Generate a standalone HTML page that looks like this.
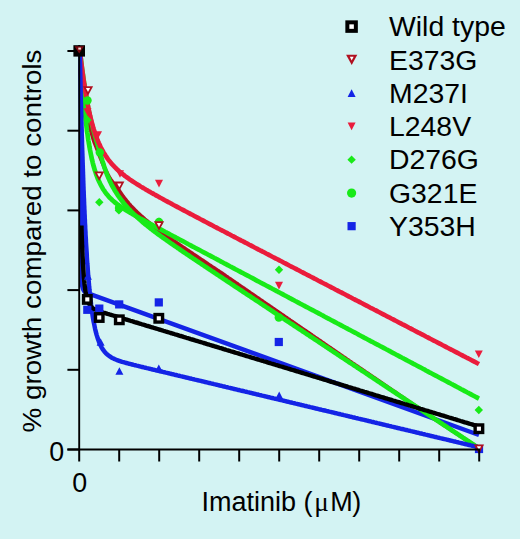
<!DOCTYPE html>
<html><head><meta charset="utf-8"><style>
html,body{margin:0;padding:0;background:#d3f3f3;}
body{width:520px;height:539px;overflow:hidden;}
svg{display:block;font-family:"Liberation Sans",sans-serif;}
</style></head><body>
<svg width="520" height="539" viewBox="0 0 520 539">
<rect width="520" height="539" fill="#d3f3f3"/>
<defs><clipPath id="cp"><rect x="78.4" y="0" width="442" height="539"/></clipPath></defs><g clip-path="url(#cp)">
<path d="M80.2,53 C81.0,110 81.5,200 81.6,278 Q81.7,291.3 86,292.6 L479,435" fill="none" stroke="#1424e6" stroke-width="4.5" stroke-linejoin="round"/>
<path d="M77.3,51.3 L77.5,52.8 L77.7,54.3 L77.9,55.8 L78.0,57.3 L78.2,58.8 L78.4,60.2 L78.6,61.7 L78.8,63.2 L79.0,64.7 L79.2,66.2 L79.4,67.7 L79.6,69.2 L79.8,70.7 L80.0,72.1 L80.2,73.6 L80.4,75.1 L80.6,76.6 L80.8,78.1 L81.0,79.6 L81.2,81.0 L81.4,82.5 L81.7,84.0 L81.9,85.5 L82.1,87.0 L82.3,88.5 L82.6,89.9 L82.8,91.4 L83.0,92.9 L83.3,94.4 L83.5,95.9 L83.7,97.4 L84.0,98.8 L84.2,100.3 L84.5,101.8 L84.7,103.3 L85.0,104.7 L85.3,106.2 L85.5,107.7 L85.8,109.2 L86.1,110.6 L86.4,112.1 L86.7,113.6 L87.0,115.0 L87.4,116.5 L87.7,118.0 L88.0,119.4 L88.4,120.9 L88.7,122.3 L89.1,123.8 L89.5,125.3 L89.9,126.7 L90.2,128.2 L90.6,129.6 L91.0,131.1 L91.4,132.5 L91.8,133.9 L92.3,135.4 L92.7,136.8 L93.1,138.3 L93.5,139.7 L94.0,141.1 L94.5,142.5 L95.1,143.9 L95.6,145.3 L96.2,146.7 L96.7,148.1 L97.3,149.5 L97.8,150.9 L98.4,152.3 L98.9,153.7 L99.4,155.1 L100.0,156.5 L100.5,157.9 L101.1,159.3 L101.7,160.7 L102.2,162.1 L102.8,163.5 L103.4,164.8 L103.9,166.2 L104.5,167.6 L105.1,169.0 L105.7,170.3 L106.4,171.7 L107.0,173.0 L107.7,174.4 L108.4,175.7 L109.1,177.1 L109.9,178.3 L110.7,179.6 L111.6,180.8 L112.4,182.0 L113.3,183.2 L114.2,184.4 L115.1,185.6 L116.1,186.8 L117.0,188.0 L118.0,189.1 L118.9,190.3 L119.7,191.5 L120.6,192.8 L121.4,194.0 L122.3,195.3 L123.1,196.5 L124.0,197.7 L124.9,198.9 L125.9,200.1 L126.8,201.2 L127.8,202.4 L128.7,203.5 L129.7,204.6 L130.7,205.8 L131.8,206.9 L132.8,208.0 L133.8,209.0 L134.9,210.1 L136.0,211.2 L137.0,212.2 L138.1,213.2 L139.2,214.2 L140.3,215.3 L141.4,216.3 L142.6,217.2 L143.7,218.2 L144.8,219.2 L146.0,220.2 L147.1,221.1 L148.3,222.1 L149.5,223.0 L150.7,224.0 L151.8,224.9 L153.0,225.8 L154.2,226.7 L155.4,227.6 L156.6,228.5 L157.8,229.4 L159.0,230.3 L160.2,231.2 L161.4,232.1 L162.6,233.0 L163.8,233.9 L165.1,234.7 L166.3,235.6 L167.5,236.5 L168.7,237.4 L169.9,238.2 L171.2,239.1 L172.4,239.9 L173.6,240.8 L174.9,241.7 L176.1,242.5 L177.3,243.4 L178.6,244.2 L179.8,245.1 L181.0,245.9 L182.3,246.8 L183.5,247.6 L184.8,248.5 L186.0,249.3 L187.2,250.1 L188.5,251.0 L189.7,251.8 L191.0,252.7 L192.2,253.5 L193.4,254.3 L194.7,255.2 L195.9,256.0 L197.2,256.8 L198.4,257.7 L199.7,258.5 L200.9,259.4 L202.2,260.2 L203.4,261.0 L204.7,261.9 L205.9,262.7 L207.2,263.5 L208.4,264.4 L209.6,265.2 L210.9,266.0 L212.1,266.9 L213.4,267.7 L214.6,268.5 L215.9,269.4 L217.1,270.2 L218.4,271.0 L219.6,271.8 L220.9,272.7 L222.1,273.5 L223.4,274.4 L224.6,275.2 L225.8,276.1 L227.1,276.9 L228.3,277.8 L229.5,278.6 L230.8,279.5 L232.0,280.3 L233.2,281.2 L234.5,282.0 L235.7,282.9 L237.0,283.7 L238.2,284.6 L239.4,285.4 L240.7,286.3 L241.9,287.1 L243.1,288.0 L244.4,288.8 L245.6,289.7 L246.8,290.5 L248.1,291.4 L249.3,292.2 L250.5,293.1 L251.8,293.9 L253.0,294.8 L254.3,295.6 L255.5,296.5 L256.7,297.3 L258.0,298.2 L259.2,299.0 L260.4,299.9 L261.7,300.7 L262.9,301.6 L264.1,302.4 L265.4,303.3 L266.6,304.1 L267.8,305.0 L269.1,305.8 L270.3,306.7 L271.6,307.5 L272.8,308.4 L274.0,309.2 L275.3,310.1 L276.5,310.9 L277.7,311.8 L279.0,312.6 L280.2,313.5 L281.4,314.3 L282.7,315.2 L283.9,316.0 L285.1,316.9 L286.4,317.7 L287.6,318.6 L288.9,319.4 L290.1,320.3 L291.3,321.1 L292.6,322.0 L293.8,322.8 L295.0,323.7 L296.3,324.5 L297.5,325.4 L298.7,326.2 L300.0,327.1 L301.2,327.9 L302.5,328.8 L303.7,329.6 L304.9,330.5 L306.2,331.3 L307.4,332.2 L308.6,333.0 L309.9,333.9 L311.1,334.7 L312.3,335.6 L313.6,336.4 L314.8,337.3 L316.0,338.1 L317.3,339.0 L318.5,339.8 L319.8,340.7 L321.0,341.5 L322.2,342.4 L323.5,343.2 L324.7,344.1 L325.9,344.9 L327.2,345.8 L328.4,346.6 L329.6,347.5 L330.9,348.3 L332.1,349.2 L333.3,350.0 L334.6,350.9 L335.8,351.7 L337.1,352.6 L338.3,353.4 L339.5,354.3 L340.8,355.1 L342.0,356.0 L343.2,356.8 L344.5,357.7 L345.7,358.5 L346.9,359.4 L348.2,360.2 L349.4,361.1 L350.7,361.9 L351.9,362.8 L353.1,363.6 L354.4,364.5 L355.6,365.3 L356.9,366.2 L358.1,367.0 L359.3,367.8 L360.6,368.7 L361.8,369.5 L363.1,370.4 L364.3,371.2 L365.5,372.1 L366.8,372.9 L368.0,373.7 L369.3,374.6 L370.5,375.4 L371.7,376.3 L373.0,377.1 L374.2,378.0 L375.5,378.8 L376.7,379.7 L377.9,380.5 L379.2,381.3 L380.4,382.2 L381.7,383.0 L382.9,383.9 L384.1,384.7 L385.4,385.6 L386.6,386.4 L387.9,387.3 L389.1,388.1 L390.3,388.9 L391.6,389.8 L392.8,390.6 L394.0,391.5 L395.3,392.3 L396.5,393.2 L397.8,394.0 L399.0,394.9 L400.2,395.7 L401.5,396.5 L402.7,397.4 L404.0,398.2 L405.2,399.1 L406.4,399.9 L407.7,400.8 L408.9,401.6 L410.2,402.4 L411.4,403.3 L412.6,404.1 L413.9,405.0 L415.1,405.8 L416.4,406.7 L417.6,407.5 L418.8,408.4 L420.1,409.2 L421.3,410.0 L422.6,410.9 L423.8,411.7 L425.1,412.5 L426.3,413.3 L427.6,414.2 L428.8,415.0 L430.1,415.8 L431.3,416.7 L432.6,417.5 L433.8,418.3 L435.1,419.2 L436.3,420.0 L437.6,420.8 L438.8,421.6 L440.1,422.5 L441.3,423.3 L442.6,424.1 L443.8,425.0 L445.1,425.8 L446.3,426.6 L447.6,427.4 L448.8,428.3 L450.1,429.1 L451.3,429.9 L452.6,430.8 L453.8,431.6 L455.1,432.4 L456.3,433.2 L457.6,434.1 L458.8,434.9 L460.1,435.7 L461.3,436.6 L462.6,437.4 L463.8,438.2 L465.1,439.1 L466.3,439.9 L467.6,440.7 L468.8,441.5 L470.1,442.4 L471.3,443.2 L472.6,444.0 L473.8,444.9 L475.1,445.7 L476.3,446.5 L477.6,447.3 L478.8,448.2 L479.0,448.3" fill="none" stroke="#b01020" stroke-width="4.0" stroke-linejoin="round"/>
<path d="M79.9,51.0 L80.0,52.5 L80.1,54.0 L80.2,55.5 L80.3,57.0 L80.4,58.5 L80.5,60.0 L80.6,61.5 L80.7,63.0 L80.8,64.5 L80.9,66.0 L81.1,67.5 L81.2,69.0 L81.3,70.5 L81.4,71.9 L81.5,73.4 L81.6,74.9 L81.7,76.4 L81.9,77.9 L82.0,79.4 L82.1,80.9 L82.2,82.4 L82.4,83.9 L82.5,85.4 L82.6,86.9 L82.7,88.4 L82.9,89.9 L83.0,91.4 L83.1,92.9 L83.2,94.4 L83.4,95.9 L83.5,97.4 L83.6,98.9 L83.8,100.3 L83.9,101.8 L84.0,103.3 L84.2,104.8 L84.3,106.3 L84.4,107.8 L84.6,109.3 L84.7,110.8 L84.9,112.3 L85.0,113.8 L85.2,115.3 L85.4,116.8 L85.5,118.3 L85.7,119.8 L85.9,121.2 L86.0,122.7 L86.2,124.2 L86.4,125.7 L86.6,127.2 L86.8,128.7 L86.9,130.2 L87.1,131.7 L87.3,133.1 L87.6,134.6 L87.8,136.1 L88.0,137.6 L88.2,139.1 L88.4,140.6 L88.7,142.1 L88.9,143.5 L89.2,145.0 L89.4,146.5 L89.7,148.0 L89.9,149.4 L90.2,150.9 L90.5,152.4 L90.8,153.9 L91.1,155.3 L91.4,156.8 L91.7,158.3 L92.0,159.7 L92.4,161.2 L92.7,162.6 L93.1,164.1 L93.5,165.6 L93.9,167.0 L94.3,168.4 L94.7,169.9 L95.2,171.3 L95.7,172.7 L96.1,174.1 L96.7,175.6 L97.2,177.0 L97.7,178.4 L98.3,179.7 L98.9,181.1 L99.6,182.5 L100.2,183.8 L100.9,185.2 L101.6,186.5 L102.4,187.8 L103.1,189.1 L104.0,190.3 L104.8,191.6 L105.7,192.8 L106.6,194.0 L107.5,195.1 L108.5,196.3 L109.5,197.4 L110.6,198.4 L111.6,199.5 L112.7,200.5 L113.9,201.5 L115.0,202.5 L116.2,203.4 L117.4,204.3 L118.6,205.2 L119.8,206.1 L121.0,207.0 L122.3,207.8 L123.5,208.6 L124.8,209.4 L126.0,210.2 L127.3,211.0 L128.6,211.8 L129.9,212.6 L131.2,213.3 L132.5,214.1 L133.8,214.8 L135.1,215.6 L136.4,216.3 L137.7,217.0 L139.0,217.8 L140.3,218.5 L141.7,219.2 L143.0,219.9 L144.3,220.6 L145.6,221.4 L146.9,222.1 L148.2,222.8 L149.6,223.5 L150.9,224.2 L152.2,224.9 L153.5,225.6 L154.9,226.3 L156.2,227.0 L157.5,227.7 L158.8,228.5 L160.1,229.2 L161.5,229.9 L162.8,230.6 L164.1,231.3 L165.4,232.0 L166.8,232.7 L168.1,233.4 L169.4,234.1 L170.7,234.8 L172.1,235.5 L173.4,236.2 L174.7,236.9 L176.0,237.6 L177.4,238.3 L178.7,239.0 L180.0,239.7 L181.3,240.4 L182.7,241.1 L184.0,241.8 L185.3,242.5 L186.6,243.2 L188.0,244.0 L189.3,244.7 L190.6,245.4 L191.9,246.1 L193.3,246.8 L194.6,247.5 L195.9,248.2 L197.2,248.9 L198.6,249.6 L199.9,250.3 L201.2,251.0 L202.5,251.7 L203.8,252.4 L205.2,253.1 L206.5,253.8 L207.8,254.5 L209.1,255.2 L210.5,255.9 L211.8,256.6 L213.1,257.3 L214.4,258.0 L215.8,258.7 L217.1,259.4 L218.4,260.1 L219.7,260.8 L221.1,261.6 L222.4,262.3 L223.7,263.0 L225.0,263.7 L226.4,264.4 L227.7,265.1 L229.0,265.8 L230.3,266.5 L231.7,267.2 L233.0,267.9 L234.3,268.6 L235.6,269.3 L237.0,270.0 L238.3,270.7 L239.6,271.4 L240.9,272.1 L242.3,272.8 L243.6,273.5 L244.9,274.2 L246.2,274.9 L247.6,275.6 L248.9,276.3 L250.2,277.0 L251.5,277.7 L252.9,278.4 L254.2,279.1 L255.5,279.9 L256.8,280.6 L258.2,281.3 L259.5,282.0 L260.8,282.7 L262.1,283.4 L263.5,284.1 L264.8,284.8 L266.1,285.5 L267.4,286.2 L268.8,286.9 L270.1,287.6 L271.4,288.3 L272.7,289.0 L274.1,289.7 L275.4,290.4 L276.7,291.1 L278.0,291.8 L279.4,292.5 L280.7,293.2 L282.0,293.9 L283.3,294.6 L284.6,295.3 L286.0,296.0 L287.3,296.7 L288.6,297.4 L289.9,298.2 L291.3,298.9 L292.6,299.6 L293.9,300.3 L295.2,301.0 L296.6,301.7 L297.9,302.4 L299.2,303.1 L300.5,303.8 L301.9,304.5 L303.2,305.2 L304.5,305.9 L305.8,306.6 L307.2,307.3 L308.5,308.0 L309.8,308.7 L311.1,309.4 L312.5,310.1 L313.8,310.8 L315.1,311.5 L316.4,312.2 L317.8,312.9 L319.1,313.6 L320.4,314.3 L321.7,315.0 L323.1,315.7 L324.4,316.5 L325.7,317.2 L327.0,317.9 L328.4,318.6 L329.7,319.3 L331.0,320.0 L332.3,320.7 L333.7,321.4 L335.0,322.1 L336.3,322.8 L337.6,323.5 L339.0,324.2 L340.3,324.9 L341.6,325.6 L342.9,326.3 L344.3,327.0 L345.6,327.7 L346.9,328.4 L348.2,329.1 L349.6,329.8 L350.9,330.5 L352.2,331.2 L353.5,331.9 L354.9,332.6 L356.2,333.3 L357.5,334.0 L358.8,334.8 L360.2,335.5 L361.5,336.2 L362.8,336.9 L364.1,337.6 L365.5,338.3 L366.8,339.0 L368.1,339.7 L369.4,340.4 L370.7,341.1 L372.1,341.8 L373.4,342.5 L374.7,343.2 L376.0,343.9 L377.4,344.6 L378.7,345.3 L380.0,346.0 L381.3,346.7 L382.7,347.4 L384.0,348.1 L385.3,348.8 L386.6,349.5 L388.0,350.2 L389.3,350.9 L390.6,351.6 L391.9,352.4 L393.3,353.1 L394.6,353.8 L395.9,354.5 L397.2,355.2 L398.6,355.9 L399.9,356.6 L401.2,357.3 L402.5,358.0 L403.9,358.7 L405.2,359.4 L406.5,360.1 L407.8,360.8 L409.2,361.5 L410.5,362.2 L411.8,362.9 L413.1,363.6 L414.5,364.3 L415.8,365.0 L417.1,365.7 L418.4,366.4 L419.8,367.1 L421.1,367.8 L422.4,368.5 L423.7,369.2 L425.1,369.9 L426.4,370.7 L427.7,371.4 L429.0,372.1 L430.4,372.8 L431.7,373.5 L433.0,374.2 L434.3,374.9 L435.7,375.6 L437.0,376.3 L438.3,377.0 L439.6,377.7 L441.0,378.4 L442.3,379.1 L443.6,379.8 L444.9,380.5 L446.3,381.2 L447.6,381.9 L448.9,382.6 L450.2,383.3 L451.5,384.0 L452.9,384.7 L454.2,385.4 L455.5,386.1 L456.8,386.8 L458.2,387.5 L459.5,388.2 L460.8,389.0 L462.1,389.7 L463.5,390.4 L464.8,391.1 L466.1,391.8 L467.4,392.5 L468.8,393.2 L470.1,393.9 L471.4,394.6 L472.7,395.3 L474.1,396.0 L475.4,396.7 L476.7,397.4 L478.0,398.1 L479.0,398.6" fill="none" stroke="#18ea18" stroke-width="4.7" stroke-linejoin="round"/>
<path d="M79.9,51.0 L80.1,52.5 L80.3,54.0 L80.4,55.5 L80.6,57.0 L80.8,58.4 L81.0,59.9 L81.2,61.4 L81.4,62.9 L81.6,64.4 L81.7,65.9 L81.9,67.4 L82.1,68.9 L82.3,70.3 L82.5,71.8 L82.7,73.3 L83.0,74.8 L83.2,76.3 L83.4,77.8 L83.6,79.3 L83.8,80.7 L84.0,82.2 L84.2,83.7 L84.5,85.2 L84.7,86.7 L84.9,88.2 L85.2,89.6 L85.4,91.1 L85.6,92.6 L85.8,94.1 L86.1,95.6 L86.3,97.1 L86.6,98.5 L86.8,100.0 L87.1,101.5 L87.3,103.0 L87.6,104.4 L87.9,105.9 L88.1,107.4 L88.4,108.9 L88.7,110.3 L89.0,111.8 L89.3,113.3 L89.6,114.7 L90.0,116.2 L90.3,117.7 L90.6,119.1 L91.0,120.6 L91.3,122.0 L91.7,123.5 L92.1,124.9 L92.5,126.4 L92.9,127.8 L93.2,129.3 L93.6,130.7 L94.1,132.2 L94.5,133.6 L94.9,135.1 L95.3,136.5 L95.7,138.0 L96.1,139.4 L96.5,140.8 L97.0,142.3 L97.4,143.7 L97.8,145.2 L98.2,146.6 L98.7,148.0 L99.1,149.5 L99.5,150.9 L99.9,152.4 L100.3,153.8 L100.7,155.2 L101.2,156.7 L101.6,158.1 L102.0,159.6 L102.4,161.0 L102.9,162.4 L103.3,163.9 L103.8,165.3 L104.2,166.7 L104.7,168.1 L105.2,169.6 L105.7,171.0 L106.2,172.4 L106.7,173.8 L107.3,175.2 L107.9,176.6 L108.4,177.9 L109.1,179.3 L109.7,180.7 L110.3,182.0 L111.0,183.4 L111.6,184.7 L112.3,186.1 L113.1,187.4 L113.8,188.7 L114.5,190.0 L115.3,191.3 L116.1,192.5 L116.9,193.8 L117.7,195.1 L118.6,196.3 L119.4,197.5 L120.3,198.7 L121.2,199.9 L122.1,201.1 L123.1,202.3 L124.0,203.5 L125.0,204.6 L125.9,205.8 L126.9,206.9 L127.9,208.0 L128.9,209.1 L130.0,210.2 L131.0,211.3 L132.1,212.4 L133.1,213.4 L134.2,214.5 L135.3,215.5 L136.4,216.5 L137.5,217.5 L138.6,218.5 L139.7,219.5 L140.9,220.5 L142.0,221.5 L143.1,222.5 L144.3,223.4 L145.4,224.4 L146.6,225.3 L147.8,226.3 L149.0,227.2 L150.1,228.1 L151.3,229.0 L152.5,230.0 L153.7,230.9 L154.9,231.8 L156.1,232.7 L157.3,233.6 L158.5,234.5 L159.7,235.3 L160.9,236.2 L162.2,237.1 L163.4,238.0 L164.6,238.8 L165.8,239.7 L167.0,240.6 L168.3,241.4 L169.5,242.3 L170.7,243.2 L172.0,244.0 L173.2,244.9 L174.4,245.7 L175.7,246.6 L176.9,247.4 L178.1,248.3 L179.4,249.1 L180.6,250.0 L181.8,250.8 L183.1,251.7 L184.3,252.5 L185.6,253.4 L186.8,254.2 L188.1,255.0 L189.3,255.9 L190.5,256.7 L191.8,257.6 L193.0,258.4 L194.3,259.2 L195.5,260.1 L196.8,260.9 L198.0,261.7 L199.3,262.6 L200.5,263.4 L201.7,264.2 L203.0,265.1 L204.2,265.9 L205.5,266.7 L206.7,267.6 L208.0,268.4 L209.2,269.2 L210.5,270.1 L211.7,270.9 L213.0,271.7 L214.2,272.6 L215.5,273.4 L216.7,274.2 L218.0,275.1 L219.2,275.9 L220.5,276.7 L221.7,277.6 L223.0,278.4 L224.2,279.2 L225.5,280.0 L226.7,280.9 L228.0,281.7 L229.2,282.5 L230.5,283.4 L231.7,284.2 L233.0,285.0 L234.2,285.9 L235.5,286.7 L236.7,287.5 L238.0,288.3 L239.2,289.2 L240.5,290.0 L241.7,290.8 L243.0,291.7 L244.2,292.5 L245.5,293.3 L246.7,294.2 L248.0,295.0 L249.2,295.8 L250.5,296.6 L251.7,297.5 L253.0,298.3 L254.2,299.1 L255.5,300.0 L256.7,300.8 L258.0,301.6 L259.2,302.4 L260.5,303.3 L261.7,304.1 L263.0,304.9 L264.2,305.8 L265.5,306.6 L266.7,307.4 L268.0,308.3 L269.2,309.1 L270.5,309.9 L271.7,310.7 L272.9,311.6 L274.2,312.4 L275.4,313.2 L276.7,314.1 L277.9,314.9 L279.2,315.7 L280.4,316.5 L281.7,317.4 L282.9,318.2 L284.2,319.0 L285.4,319.9 L286.7,320.7 L287.9,321.5 L289.2,322.4 L290.4,323.2 L291.7,324.0 L292.9,324.8 L294.2,325.7 L295.4,326.5 L296.7,327.3 L297.9,328.2 L299.2,329.0 L300.4,329.8 L301.7,330.6 L302.9,331.5 L304.2,332.3 L305.4,333.1 L306.7,334.0 L307.9,334.8 L309.2,335.6 L310.4,336.5 L311.7,337.3 L312.9,338.1 L314.2,338.9 L315.4,339.8 L316.7,340.6 L317.9,341.4 L319.2,342.3 L320.4,343.1 L321.7,343.9 L322.9,344.7 L324.2,345.6 L325.4,346.4 L326.7,347.2 L327.9,348.1 L329.2,348.9 L330.4,349.7 L331.7,350.6 L332.9,351.4 L334.2,352.2 L335.4,353.0 L336.7,353.9 L337.9,354.7 L339.2,355.5 L340.4,356.4 L341.7,357.2 L342.9,358.0 L344.2,358.8 L345.4,359.7 L346.7,360.5 L347.9,361.3 L349.2,362.2 L350.4,363.0 L351.7,363.8 L352.9,364.6 L354.2,365.5 L355.4,366.3 L356.7,367.1 L357.9,368.0 L359.2,368.8 L360.4,369.6 L361.7,370.5 L362.9,371.3 L364.2,372.1 L365.4,372.9 L366.7,373.8 L367.9,374.6 L369.2,375.4 L370.4,376.3 L371.7,377.1 L372.9,377.9 L374.2,378.7 L375.4,379.6 L376.7,380.4 L377.9,381.2 L379.2,382.1 L380.4,382.9 L381.7,383.7 L382.9,384.6 L384.2,385.4 L385.4,386.2 L386.7,387.0 L387.9,387.9 L389.2,388.7 L390.4,389.5 L391.7,390.4 L392.9,391.2 L394.2,392.0 L395.4,392.8 L396.7,393.7 L397.9,394.5 L399.2,395.3 L400.4,396.2 L401.7,397.0 L402.9,397.8 L404.2,398.7 L405.4,399.5 L406.7,400.3 L407.9,401.1 L409.2,402.0 L410.4,402.8 L411.7,403.6 L412.9,404.5 L414.2,405.3 L415.4,406.1 L416.7,406.9 L417.9,407.8 L419.2,408.6 L420.4,409.4 L421.7,410.3 L422.9,411.1 L424.2,411.9 L425.4,412.7 L426.7,413.6 L427.9,414.4 L429.2,415.2 L430.4,416.1 L431.7,416.9 L432.9,417.7 L434.2,418.6 L435.4,419.4 L436.7,420.2 L437.9,421.0 L439.2,421.9 L440.4,422.7 L441.7,423.5 L442.9,424.4 L444.2,425.2 L445.4,426.0 L446.7,426.8 L447.9,427.7 L449.2,428.5 L450.4,429.3 L451.7,430.2 L452.9,431.0 L454.2,431.8 L455.4,432.7 L456.7,433.5 L457.9,434.3 L459.2,435.1 L460.4,436.0 L461.7,436.8 L462.9,437.6 L464.2,438.5 L465.4,439.3 L466.7,440.1 L467.9,440.9 L469.2,441.8 L470.4,442.6 L471.7,443.4 L472.9,444.3 L474.2,445.1 L475.4,445.9 L476.7,446.8 L477.9,447.6 L479.0,448.3" fill="none" stroke="#18ea18" stroke-width="4.7" stroke-linejoin="round"/>
<path d="M79.9,51.0 L80.1,52.5 L80.2,54.0 L80.4,55.5 L80.6,57.0 L80.8,58.5 L80.9,59.9 L81.1,61.4 L81.3,62.9 L81.5,64.4 L81.7,65.9 L81.9,67.4 L82.1,68.9 L82.3,70.4 L82.5,71.8 L82.7,73.3 L82.9,74.8 L83.1,76.3 L83.3,77.8 L83.5,79.3 L83.7,80.8 L84.0,82.2 L84.2,83.7 L84.4,85.2 L84.7,86.7 L84.9,88.2 L85.1,89.6 L85.4,91.1 L85.6,92.6 L85.9,94.1 L86.1,95.6 L86.4,97.0 L86.6,98.5 L86.9,100.0 L87.1,101.5 L87.4,102.9 L87.7,104.4 L88.0,105.9 L88.3,107.4 L88.6,108.8 L88.9,110.3 L89.2,111.8 L89.5,113.2 L89.9,114.7 L90.2,116.2 L90.6,117.6 L90.9,119.1 L91.3,120.5 L91.7,122.0 L92.1,123.4 L92.5,124.9 L92.9,126.3 L93.3,127.7 L93.7,129.2 L94.2,130.6 L94.7,132.0 L95.1,133.5 L95.6,134.9 L96.1,136.3 L96.7,137.7 L97.2,139.1 L97.8,140.5 L98.3,141.9 L98.9,143.2 L99.6,144.6 L100.2,146.0 L100.8,147.3 L101.5,148.7 L102.2,150.0 L103.0,151.3 L103.7,152.6 L104.5,153.9 L105.3,155.1 L106.1,156.4 L106.9,157.6 L107.8,158.9 L108.7,160.1 L109.6,161.2 L110.6,162.4 L111.5,163.6 L112.5,164.7 L113.6,165.8 L114.6,166.9 L115.6,167.9 L116.7,169.0 L117.8,170.0 L118.9,171.0 L120.1,172.0 L121.2,173.0 L122.4,173.9 L123.6,174.8 L124.7,175.8 L125.9,176.7 L127.1,177.5 L128.4,178.4 L129.6,179.3 L130.8,180.1 L132.1,181.0 L133.3,181.8 L134.6,182.6 L135.8,183.4 L137.1,184.2 L138.4,185.0 L139.7,185.8 L140.9,186.6 L142.2,187.4 L143.5,188.1 L144.8,188.9 L146.1,189.7 L147.4,190.4 L148.7,191.2 L150.0,191.9 L151.3,192.7 L152.6,193.4 L153.9,194.1 L155.2,194.9 L156.5,195.6 L157.8,196.3 L159.1,197.1 L160.4,197.8 L161.8,198.5 L163.1,199.2 L164.4,200.0 L165.7,200.7 L167.0,201.4 L168.3,202.1 L169.7,202.8 L171.0,203.5 L172.3,204.3 L173.6,205.0 L175.0,205.7 L176.3,206.4 L177.6,207.1 L178.9,207.8 L180.2,208.5 L181.6,209.2 L182.9,209.9 L184.2,210.6 L185.5,211.3 L186.9,212.0 L188.2,212.7 L189.5,213.4 L190.8,214.1 L192.2,214.8 L193.5,215.5 L194.8,216.2 L196.1,216.9 L197.5,217.6 L198.8,218.3 L200.1,219.0 L201.5,219.7 L202.8,220.4 L204.1,221.1 L205.4,221.8 L206.8,222.5 L208.1,223.2 L209.4,223.9 L210.8,224.6 L212.1,225.3 L213.4,226.0 L214.7,226.7 L216.1,227.4 L217.4,228.1 L218.7,228.8 L220.1,229.5 L221.4,230.2 L222.7,230.8 L224.1,231.5 L225.4,232.2 L226.7,232.9 L228.0,233.6 L229.4,234.3 L230.7,235.0 L232.0,235.7 L233.4,236.4 L234.7,237.1 L236.0,237.8 L237.4,238.5 L238.7,239.2 L240.0,239.9 L241.3,240.6 L242.7,241.2 L244.0,241.9 L245.3,242.6 L246.7,243.3 L248.0,244.0 L249.3,244.7 L250.7,245.4 L252.0,246.1 L253.3,246.8 L254.6,247.5 L256.0,248.2 L257.3,248.9 L258.6,249.6 L260.0,250.3 L261.3,250.9 L262.6,251.6 L264.0,252.3 L265.3,253.0 L266.6,253.7 L268.0,254.4 L269.3,255.1 L270.6,255.8 L271.9,256.5 L273.3,257.2 L274.6,257.9 L275.9,258.6 L277.3,259.2 L278.6,259.9 L279.9,260.6 L281.3,261.3 L282.6,262.0 L283.9,262.7 L285.3,263.4 L286.6,264.1 L287.9,264.8 L289.2,265.5 L290.6,266.2 L291.9,266.9 L293.2,267.5 L294.6,268.2 L295.9,268.9 L297.2,269.6 L298.6,270.3 L299.9,271.0 L301.2,271.7 L302.6,272.4 L303.9,273.1 L305.2,273.8 L306.6,274.5 L307.9,275.2 L309.2,275.8 L310.5,276.5 L311.9,277.2 L313.2,277.9 L314.5,278.6 L315.9,279.3 L317.2,280.0 L318.5,280.7 L319.9,281.4 L321.2,282.1 L322.5,282.8 L323.9,283.5 L325.2,284.1 L326.5,284.8 L327.8,285.5 L329.2,286.2 L330.5,286.9 L331.8,287.6 L333.2,288.3 L334.5,289.0 L335.8,289.7 L337.2,290.4 L338.5,291.1 L339.8,291.8 L341.2,292.4 L342.5,293.1 L343.8,293.8 L345.2,294.5 L346.5,295.2 L347.8,295.9 L349.1,296.6 L350.5,297.3 L351.8,298.0 L353.1,298.7 L354.5,299.4 L355.8,300.1 L357.1,300.7 L358.5,301.4 L359.8,302.1 L361.1,302.8 L362.5,303.5 L363.8,304.2 L365.1,304.9 L366.5,305.6 L367.8,306.3 L369.1,307.0 L370.4,307.7 L371.8,308.4 L373.1,309.0 L374.4,309.7 L375.8,310.4 L377.1,311.1 L378.4,311.8 L379.8,312.5 L381.1,313.2 L382.4,313.9 L383.8,314.6 L385.1,315.3 L386.4,316.0 L387.7,316.7 L389.1,317.3 L390.4,318.0 L391.7,318.7 L393.1,319.4 L394.4,320.1 L395.7,320.8 L397.1,321.5 L398.4,322.2 L399.7,322.9 L401.1,323.6 L402.4,324.3 L403.7,324.9 L405.1,325.6 L406.4,326.3 L407.7,327.0 L409.0,327.7 L410.4,328.4 L411.7,329.1 L413.0,329.8 L414.4,330.5 L415.7,331.2 L417.0,331.9 L418.4,332.6 L419.7,333.2 L421.0,333.9 L422.4,334.6 L423.7,335.3 L425.0,336.0 L426.3,336.7 L427.7,337.4 L429.0,338.1 L430.3,338.8 L431.7,339.5 L433.0,340.2 L434.3,340.9 L435.7,341.5 L437.0,342.2 L438.3,342.9 L439.7,343.6 L441.0,344.3 L442.3,345.0 L443.7,345.7 L445.0,346.4 L446.3,347.1 L447.6,347.8 L449.0,348.5 L450.3,349.2 L451.6,349.8 L453.0,350.5 L454.3,351.2 L455.6,351.9 L457.0,352.6 L458.3,353.3 L459.6,354.0 L461.0,354.7 L462.3,355.4 L463.6,356.1 L465.0,356.8 L466.3,357.5 L467.6,358.1 L468.9,358.8 L470.3,359.5 L471.6,360.2 L472.9,360.9 L474.3,361.6 L475.6,362.3 L476.9,363.0 L478.3,363.7 L479.0,364.1" fill="none" stroke="#ea1c3c" stroke-width="4.6" stroke-linejoin="round"/>
<path d="M79.8,51.0 L79.8,52.5 L79.9,54.0 L79.9,55.5 L79.9,57.0 L80.0,58.5 L80.0,60.0 L80.0,61.5 L80.0,63.0 L80.1,64.5 L80.1,66.0 L80.1,67.5 L80.2,69.0 L80.2,70.5 L80.2,72.0 L80.3,73.5 L80.3,75.0 L80.3,76.5 L80.4,78.0 L80.4,79.5 L80.4,81.0 L80.5,82.5 L80.5,84.0 L80.5,85.5 L80.6,87.0 L80.6,88.5 L80.6,90.0 L80.7,91.5 L80.7,93.0 L80.7,94.5 L80.8,96.0 L80.8,97.5 L80.9,99.0 L80.9,100.5 L80.9,102.0 L81.0,103.5 L81.0,105.0 L81.0,106.5 L81.1,108.0 L81.1,109.5 L81.1,111.0 L81.2,112.5 L81.2,114.0 L81.3,115.5 L81.3,117.0 L81.3,118.5 L81.4,120.0 L81.4,121.5 L81.5,123.0 L81.5,124.5 L81.5,126.0 L81.6,127.5 L81.6,129.0 L81.7,130.5 L81.7,132.0 L81.7,133.5 L81.8,135.0 L81.8,136.5 L81.9,138.0 L81.9,139.5 L82.0,141.0 L82.0,142.5 L82.0,144.0 L82.1,145.5 L82.1,147.0 L82.2,148.5 L82.2,150.0 L82.3,151.5 L82.3,153.0 L82.4,154.5 L82.4,156.0 L82.5,157.5 L82.5,159.0 L82.6,160.5 L82.6,162.0 L82.7,163.5 L82.7,165.0 L82.8,166.5 L82.8,168.0 L82.9,169.5 L82.9,171.0 L83.0,172.5 L83.0,174.0 L83.1,175.5 L83.1,177.0 L83.2,178.5 L83.2,180.0 L83.3,181.5 L83.3,183.0 L83.4,184.5 L83.4,185.9 L83.5,187.4 L83.5,188.9 L83.6,190.4 L83.7,191.9 L83.7,193.4 L83.8,194.9 L83.8,196.4 L83.9,197.9 L84.0,199.4 L84.0,200.9 L84.1,202.4 L84.1,203.9 L84.2,205.4 L84.3,206.9 L84.3,208.4 L84.4,209.9 L84.5,211.4 L84.5,212.9 L84.6,214.4 L84.7,215.9 L84.7,217.4 L84.8,218.9 L84.9,220.4 L84.9,221.9 L85.0,223.4 L85.1,224.9 L85.2,226.4 L85.2,227.9 L85.3,229.4 L85.4,230.9 L85.5,232.4 L85.5,233.9 L85.6,235.4 L85.7,236.9 L85.8,238.4 L85.9,239.9 L85.9,241.4 L86.0,242.9 L86.1,244.4 L86.2,245.9 L86.3,247.4 L86.4,248.9 L86.5,250.4 L86.6,251.9 L86.7,253.4 L86.8,254.9 L86.8,256.4 L86.9,257.9 L87.0,259.4 L87.1,260.9 L87.2,262.4 L87.3,263.8 L87.5,265.3 L87.6,266.8 L87.7,268.3 L87.8,269.8 L87.9,271.3 L88.0,272.8 L88.1,274.3 L88.2,275.8 L88.4,277.3 L88.5,278.8 L88.6,280.3 L88.7,281.8 L88.9,283.3 L89.0,284.8 L89.1,286.3 L89.3,287.8 L89.4,289.3 L89.6,290.8 L89.7,292.2 L89.9,293.7 L90.0,295.2 L90.2,296.7 L90.3,298.2 L90.5,299.7 L90.7,301.2 L90.9,302.7 L91.0,304.2 L91.2,305.7 L91.4,307.2 L91.6,308.6 L91.8,310.1 L92.0,311.6 L92.2,313.1 L92.5,314.6 L92.7,316.1 L92.9,317.5 L93.2,319.0 L93.4,320.5 L93.7,322.0 L94.0,323.4 L94.3,324.9 L94.6,326.4 L94.9,327.9 L95.2,329.3 L95.6,330.8 L95.9,332.2 L96.3,333.7 L96.7,335.1 L97.2,336.6 L97.6,338.0 L98.1,339.4 L98.6,340.8 L99.1,342.2 L99.7,343.6 L100.3,345.0 L101.0,346.3 L101.7,347.6 L102.5,348.9 L103.4,350.2 L104.3,351.3 L105.2,352.5 L106.3,353.6 L107.4,354.6 L108.5,355.5 L109.8,356.4 L111.0,357.2 L112.3,357.9 L113.7,358.6 L115.0,359.2 L116.4,359.8 L117.8,360.3 L119.2,360.8 L120.7,361.3 L122.1,361.8 L123.5,362.2 L125.0,362.6 L126.4,363.0 L127.9,363.4 L129.3,363.8 L130.8,364.1 L132.2,364.5 L133.7,364.9 L135.1,365.2 L136.6,365.6 L138.1,365.9 L139.5,366.3 L141.0,366.7 L142.4,367.0 L143.9,367.4 L145.3,367.7 L146.8,368.1 L148.3,368.4 L149.7,368.8 L151.2,369.1 L152.6,369.5 L154.1,369.8 L155.6,370.2 L157.0,370.5 L158.5,370.9 L159.9,371.2 L161.4,371.5 L162.8,371.9 L164.3,372.2 L165.8,372.6 L167.2,372.9 L168.7,373.3 L170.1,373.6 L171.6,374.0 L173.1,374.3 L174.5,374.7 L176.0,375.0 L177.4,375.4 L178.9,375.7 L180.4,376.1 L181.8,376.4 L183.3,376.8 L184.7,377.1 L186.2,377.5 L187.7,377.8 L189.1,378.2 L190.6,378.5 L192.0,378.9 L193.5,379.2 L194.9,379.6 L196.4,379.9 L197.9,380.3 L199.3,380.6 L200.8,380.9 L202.2,381.3 L203.7,381.6 L205.2,382.0 L206.6,382.3 L208.1,382.7 L209.5,383.0 L211.0,383.4 L212.5,383.7 L213.9,384.1 L215.4,384.4 L216.8,384.8 L218.3,385.1 L219.7,385.5 L221.2,385.8 L222.7,386.2 L224.1,386.5 L225.6,386.9 L227.0,387.2 L228.5,387.6 L230.0,387.9 L231.4,388.3 L232.9,388.6 L234.3,389.0 L235.8,389.3 L237.3,389.7 L238.7,390.0 L240.2,390.4 L241.6,390.7 L243.1,391.0 L244.6,391.4 L246.0,391.7 L247.5,392.1 L248.9,392.4 L250.4,392.8 L251.8,393.1 L253.3,393.5 L254.8,393.8 L256.2,394.2 L257.7,394.5 L259.1,394.9 L260.6,395.2 L262.1,395.6 L263.5,395.9 L265.0,396.3 L266.4,396.6 L267.9,397.0 L269.4,397.3 L270.8,397.7 L272.3,398.0 L273.7,398.4 L275.2,398.7 L276.7,399.1 L278.1,399.4 L279.6,399.8 L281.0,400.1 L282.5,400.4 L283.9,400.8 L285.4,401.1 L286.9,401.5 L288.3,401.8 L289.8,402.2 L291.2,402.5 L292.7,402.9 L294.2,403.2 L295.6,403.6 L297.1,403.9 L298.5,404.3 L300.0,404.6 L301.5,405.0 L302.9,405.3 L304.4,405.7 L305.8,406.0 L307.3,406.4 L308.8,406.7 L310.2,407.1 L311.7,407.4 L313.1,407.8 L314.6,408.1 L316.0,408.5 L317.5,408.8 L319.0,409.2 L320.4,409.5 L321.9,409.9 L323.3,410.2 L324.8,410.5 L326.3,410.9 L327.7,411.2 L329.2,411.6 L330.6,411.9 L332.1,412.3 L333.6,412.6 L335.0,413.0 L336.5,413.3 L337.9,413.7 L339.4,414.0 L340.8,414.4 L342.3,414.7 L343.8,415.1 L345.2,415.4 L346.7,415.8 L348.1,416.1 L349.6,416.5 L351.1,416.8 L352.5,417.2 L354.0,417.5 L355.4,417.9 L356.9,418.2 L358.4,418.6 L359.8,418.9 L361.3,419.3 L362.7,419.6 L364.2,419.9 L365.7,420.3 L367.1,420.6 L368.6,421.0 L370.0,421.3 L371.5,421.7 L372.9,422.0 L374.4,422.4 L375.9,422.7 L377.3,423.1 L378.8,423.4 L380.2,423.8 L381.7,424.1 L383.2,424.5 L384.6,424.8 L386.1,425.2 L387.5,425.5 L389.0,425.9 L390.5,426.2 L391.9,426.6 L393.4,426.9 L394.8,427.3 L396.3,427.6 L397.8,428.0 L399.2,428.3 L400.7,428.7 L402.1,429.0 L403.6,429.3 L405.0,429.7 L406.5,430.0 L408.0,430.4 L409.4,430.7 L410.9,431.1 L412.3,431.4 L413.8,431.8 L415.3,432.1 L416.7,432.5 L418.2,432.8 L419.6,433.2 L421.1,433.5 L422.6,433.9 L424.0,434.2 L425.5,434.6 L426.9,434.9 L428.4,435.3 L429.8,435.6 L431.3,436.0 L432.8,436.3 L434.2,436.7 L435.7,437.0 L437.1,437.4 L438.6,437.7 L440.1,438.1 L441.5,438.4 L443.0,438.8 L444.4,439.1 L445.9,439.4 L447.4,439.8 L448.8,440.1 L450.3,440.5 L451.7,440.8 L453.2,441.2 L454.7,441.5 L456.1,441.9 L457.6,442.2 L459.0,442.6 L460.5,442.9 L461.9,443.3 L463.4,443.6 L464.9,444.0 L466.3,444.3 L467.8,444.7 L469.2,445.0 L470.7,445.4 L472.2,445.7 L473.6,446.1 L475.1,446.4 L476.5,446.8 L478.0,447.1 L479.5,447.5 L479.8,447.5" fill="none" stroke="#1424e6" stroke-width="4.5" stroke-linejoin="round"/>
<path d="M81.5,225.6 L81.5,227.1 L81.5,228.6 L81.6,230.1 L81.6,231.6 L81.7,233.1 L81.7,234.6 L81.8,236.1 L81.8,237.6 L81.9,239.1 L81.9,240.6 L82.0,242.1 L82.0,243.6 L82.1,245.1 L82.2,246.6 L82.2,248.1 L82.3,249.6 L82.3,251.1 L82.4,252.6 L82.5,254.1 L82.5,255.6 L82.6,257.0 L82.7,258.5 L82.8,260.0 L82.8,261.5 L82.9,263.0 L83.0,264.5 L83.1,266.0 L83.2,267.5 L83.3,269.0 L83.4,270.5 L83.5,272.0 L83.6,273.5 L83.7,275.0 L83.8,276.5 L83.9,278.0 L84.1,279.5 L84.2,281.0 L84.4,282.5 L84.5,284.0 L84.7,285.5 L84.9,287.0 L85.1,288.4 L85.3,289.9 L85.5,291.4 L85.8,292.9 L86.0,294.4 L86.3,295.8 L86.7,297.3 L87.1,298.7 L87.5,300.2 L88.0,301.6 L88.6,303.0 L89.3,304.3 L90.2,305.5 L91.1,306.7 L92.2,307.7 L93.4,308.6 L94.8,309.3 L96.1,309.9 L97.5,310.5 L98.9,311.0 L100.3,311.5 L101.7,312.0 L103.2,312.5 L104.6,312.9 L106.0,313.3 L107.5,313.8 L108.9,314.2 L110.3,314.7 L111.8,315.1 L113.2,315.5 L114.6,316.0 L116.1,316.4 L117.5,316.8 L118.9,317.3 L120.4,317.7 L121.8,318.2 L123.3,318.6 L124.7,319.0 L126.1,319.5 L127.6,319.9 L129.0,320.3 L130.4,320.8 L131.9,321.2 L133.3,321.6 L134.7,322.1 L136.2,322.5 L137.6,322.9 L139.0,323.4 L140.5,323.8 L141.9,324.3 L143.4,324.7 L144.8,325.1 L146.2,325.6 L147.7,326.0 L149.1,326.4 L150.5,326.9 L152.0,327.3 L153.4,327.7 L154.8,328.2 L156.3,328.6 L157.7,329.0 L159.1,329.5 L160.6,329.9 L162.0,330.3 L163.4,330.8 L164.9,331.2 L166.3,331.7 L167.8,332.1 L169.2,332.5 L170.6,333.0 L172.1,333.4 L173.5,333.8 L174.9,334.3 L176.4,334.7 L177.8,335.1 L179.2,335.6 L180.7,336.0 L182.1,336.4 L183.5,336.9 L185.0,337.3 L186.4,337.8 L187.8,338.2 L189.3,338.6 L190.7,339.1 L192.2,339.5 L193.6,339.9 L195.0,340.4 L196.5,340.8 L197.9,341.2 L199.3,341.7 L200.8,342.1 L202.2,342.5 L203.6,343.0 L205.1,343.4 L206.5,343.9 L207.9,344.3 L209.4,344.7 L210.8,345.2 L212.2,345.6 L213.7,346.0 L215.1,346.5 L216.6,346.9 L218.0,347.3 L219.4,347.8 L220.9,348.2 L222.3,348.6 L223.7,349.1 L225.2,349.5 L226.6,350.0 L228.0,350.4 L229.5,350.8 L230.9,351.3 L232.3,351.7 L233.8,352.1 L235.2,352.6 L236.6,353.0 L238.1,353.4 L239.5,353.9 L241.0,354.3 L242.4,354.7 L243.8,355.2 L245.3,355.6 L246.7,356.1 L248.1,356.5 L249.6,356.9 L251.0,357.4 L252.4,357.8 L253.9,358.2 L255.3,358.7 L256.7,359.1 L258.2,359.5 L259.6,360.0 L261.0,360.4 L262.5,360.8 L263.9,361.3 L265.4,361.7 L266.8,362.1 L268.2,362.6 L269.7,363.0 L271.1,363.5 L272.5,363.9 L274.0,364.3 L275.4,364.8 L276.8,365.2 L278.3,365.6 L279.7,366.1 L281.1,366.5 L282.6,366.9 L284.0,367.4 L285.5,367.8 L286.9,368.2 L288.3,368.7 L289.8,369.1 L291.2,369.6 L292.6,370.0 L294.1,370.4 L295.5,370.9 L296.9,371.3 L298.4,371.7 L299.8,372.2 L301.2,372.6 L302.7,373.0 L304.1,373.5 L305.5,373.9 L307.0,374.3 L308.4,374.8 L309.9,375.2 L311.3,375.7 L312.7,376.1 L314.2,376.5 L315.6,377.0 L317.0,377.4 L318.5,377.8 L319.9,378.3 L321.3,378.7 L322.8,379.1 L324.2,379.6 L325.6,380.0 L327.1,380.4 L328.5,380.9 L329.9,381.3 L331.4,381.8 L332.8,382.2 L334.3,382.6 L335.7,383.1 L337.1,383.5 L338.6,383.9 L340.0,384.4 L341.4,384.8 L342.9,385.2 L344.3,385.7 L345.7,386.1 L347.2,386.5 L348.6,387.0 L350.0,387.4 L351.5,387.8 L352.9,388.3 L354.3,388.7 L355.8,389.2 L357.2,389.6 L358.7,390.0 L360.1,390.5 L361.5,390.9 L363.0,391.3 L364.4,391.8 L365.8,392.2 L367.3,392.6 L368.7,393.1 L370.1,393.5 L371.6,393.9 L373.0,394.4 L374.4,394.8 L375.9,395.3 L377.3,395.7 L378.7,396.1 L380.2,396.6 L381.6,397.0 L383.1,397.4 L384.5,397.9 L385.9,398.3 L387.4,398.7 L388.8,399.2 L390.2,399.6 L391.7,400.0 L393.1,400.5 L394.5,400.9 L396.0,401.4 L397.4,401.8 L398.8,402.2 L400.3,402.7 L401.7,403.1 L403.1,403.5 L404.6,404.0 L406.0,404.4 L407.5,404.8 L408.9,405.3 L410.3,405.7 L411.8,406.1 L413.2,406.6 L414.6,407.0 L416.1,407.5 L417.5,407.9 L418.9,408.3 L420.4,408.8 L421.8,409.2 L423.2,409.6 L424.7,410.1 L426.1,410.5 L427.6,410.9 L429.0,411.4 L430.4,411.8 L431.9,412.2 L433.3,412.7 L434.7,413.1 L436.2,413.6 L437.6,414.0 L439.0,414.4 L440.5,414.9 L441.9,415.3 L443.3,415.7 L444.8,416.2 L446.2,416.6 L447.6,417.0 L449.1,417.5 L450.5,417.9 L452.0,418.3 L453.4,418.8 L454.8,419.2 L456.3,419.6 L457.7,420.1 L459.1,420.5 L460.6,421.0 L462.0,421.4 L463.4,421.8 L464.9,422.3 L466.3,422.7 L467.7,423.1 L469.2,423.6 L470.6,424.0 L472.0,424.4 L473.5,424.9 L474.9,425.3 L476.4,425.7 L477.8,426.2 L479.0,426.6" fill="none" stroke="#000000" stroke-width="4.4" stroke-linejoin="round"/>
</g>
<path d="M87.50,115.80 L91.70,120.00 L87.50,124.20 L83.30,120.00 Z" fill="#18ea18"/>
<path d="M99.30,198.10 L103.50,202.30 L99.30,206.50 L95.10,202.30 Z" fill="#18ea18"/>
<path d="M118.90,206.20 L123.10,210.40 L118.90,214.60 L114.70,210.40 Z" fill="#18ea18"/>
<path d="M159.00,217.40 L163.20,221.60 L159.00,225.80 L154.80,221.60 Z" fill="#18ea18"/>
<path d="M279.00,265.60 L283.20,269.80 L279.00,274.00 L274.80,269.80 Z" fill="#18ea18"/>
<path d="M478.80,405.80 L483.00,410.00 L478.80,414.20 L474.60,410.00 Z" fill="#18ea18"/>
<circle cx="87.50" cy="100.50" r="4.2" fill="#18ea18"/>
<circle cx="99.80" cy="152.50" r="4.2" fill="#18ea18"/>
<circle cx="119.00" cy="208.00" r="4.2" fill="#18ea18"/>
<circle cx="159.00" cy="222.00" r="4.2" fill="#18ea18"/>
<circle cx="278.80" cy="317.50" r="4.2" fill="#18ea18"/>
<path d="M83.50,108.20 L91.50,108.20 L87.50,115.80 Z" fill="#ea1c3c"/>
<path d="M94.00,131.20 L102.00,131.20 L98.00,138.80 Z" fill="#ea1c3c"/>
<path d="M116.00,170.20 L124.00,170.20 L120.00,177.80 Z" fill="#ea1c3c"/>
<path d="M155.00,179.80 L163.00,179.80 L159.00,187.40 Z" fill="#ea1c3c"/>
<path d="M275.00,281.80 L283.00,281.80 L279.00,289.40 Z" fill="#ea1c3c"/>
<path d="M474.80,350.40 L482.80,350.40 L478.80,358.00 Z" fill="#ea1c3c"/>
<path d="M83.90,279.80 L91.90,279.80 L87.90,272.20 Z" fill="#1424e6"/>
<path d="M96.60,345.80 L104.60,345.80 L100.60,338.20 Z" fill="#1424e6"/>
<path d="M115.40,374.80 L123.40,374.80 L119.40,367.20 Z" fill="#1424e6"/>
<path d="M154.80,372.10 L162.80,372.10 L158.80,364.50 Z" fill="#1424e6"/>
<path d="M275.20,399.20 L283.20,399.20 L279.20,391.60 Z" fill="#1424e6"/>
<path d="M475.00,452.80 L483.00,452.80 L479.00,445.20 Z" fill="#1424e6"/>
<rect x="83.20" y="305.70" width="8.2" height="8.2" fill="#1424e6"/>
<rect x="95.20" y="304.50" width="8.2" height="8.2" fill="#1424e6"/>
<rect x="115.10" y="300.30" width="8.2" height="8.2" fill="#1424e6"/>
<rect x="154.70" y="298.30" width="8.2" height="8.2" fill="#1424e6"/>
<rect x="274.70" y="337.90" width="8.2" height="8.2" fill="#1424e6"/>
<rect x="474.90" y="444.90" width="8.2" height="8.2" fill="#1424e6"/>
<path d="M74.20,46.30 L84.40,46.30 L79.30,55.70 Z" fill="#b01020"/><path d="M77.22,48.10 L81.38,48.10 L79.30,51.93 Z" fill="#fff"/>
<path d="M82.90,86.30 L93.10,86.30 L88.00,95.70 Z" fill="#b01020"/><path d="M85.92,88.10 L90.08,88.10 L88.00,91.93 Z" fill="#fff"/>
<path d="M94.10,171.50 L104.30,171.50 L99.20,180.90 Z" fill="#b01020"/><path d="M97.12,173.30 L101.28,173.30 L99.20,177.13 Z" fill="#fff"/>
<path d="M114.20,181.60 L124.40,181.60 L119.30,191.00 Z" fill="#b01020"/><path d="M117.22,183.40 L121.38,183.40 L119.30,187.23 Z" fill="#fff"/>
<path d="M153.90,221.30 L164.10,221.30 L159.00,230.70 Z" fill="#b01020"/><path d="M156.92,223.10 L161.08,223.10 L159.00,226.93 Z" fill="#fff"/>
<path d="M473.90,444.50 L484.10,444.50 L479.00,453.90 Z" fill="#b01020"/><path d="M476.92,446.30 L481.08,446.30 L479.00,450.13 Z" fill="#fff"/>
<rect x="83.55" y="295.65" width="7.50" height="7.50" fill="#fff" stroke="#000000" stroke-width="3.4"/>
<rect x="95.45" y="313.75" width="7.50" height="7.50" fill="#fff" stroke="#000000" stroke-width="3.4"/>
<rect x="115.55" y="316.05" width="7.50" height="7.50" fill="#fff" stroke="#000000" stroke-width="3.4"/>
<rect x="155.05" y="314.55" width="7.50" height="7.50" fill="#fff" stroke="#000000" stroke-width="3.4"/>
<rect x="475.15" y="424.95" width="7.50" height="7.50" fill="#fff" stroke="#000000" stroke-width="3.4"/>
<line x1="79.2" y1="45" x2="79.2" y2="450" stroke="#000" stroke-width="1.9"/>
<line x1="67.4" y1="449.5" x2="480" y2="449.5" stroke="#000" stroke-width="2"/>
<line x1="67.4" y1="449.5" x2="79" y2="449.5" stroke="#000" stroke-width="2"/>
<line x1="67.4" y1="369.8" x2="79" y2="369.8" stroke="#000" stroke-width="2"/>
<line x1="67.4" y1="290.1" x2="79" y2="290.1" stroke="#000" stroke-width="2"/>
<line x1="67.4" y1="210.4" x2="79" y2="210.4" stroke="#000" stroke-width="2"/>
<line x1="67.4" y1="130.7" x2="79" y2="130.7" stroke="#000" stroke-width="2"/>
<line x1="67.4" y1="51.0" x2="79" y2="51.0" stroke="#000" stroke-width="2"/>
<line x1="79.2" y1="449" x2="79.2" y2="461.5" stroke="#000" stroke-width="2"/>
<line x1="119.2" y1="449" x2="119.2" y2="461.5" stroke="#000" stroke-width="2"/>
<line x1="159.2" y1="449" x2="159.2" y2="461.5" stroke="#000" stroke-width="2"/>
<line x1="199.2" y1="449" x2="199.2" y2="461.5" stroke="#000" stroke-width="2"/>
<line x1="239.2" y1="449" x2="239.2" y2="461.5" stroke="#000" stroke-width="2"/>
<line x1="279.2" y1="449" x2="279.2" y2="461.5" stroke="#000" stroke-width="2"/>
<line x1="319.2" y1="449" x2="319.2" y2="461.5" stroke="#000" stroke-width="2"/>
<line x1="359.2" y1="449" x2="359.2" y2="461.5" stroke="#000" stroke-width="2"/>
<line x1="399.2" y1="449" x2="399.2" y2="461.5" stroke="#000" stroke-width="2"/>
<line x1="439.2" y1="449" x2="439.2" y2="461.5" stroke="#000" stroke-width="2"/>
<line x1="479.2" y1="449" x2="479.2" y2="461.5" stroke="#000" stroke-width="2"/>
<rect x="73.4" y="45.2" width="11.6" height="11.4" fill="#000"/>
<path d="M74.5,46.3 L84,46.3 L79.2,53.5 Z" fill="#7a0810"/>
<rect x="78.3" y="47.6" width="2.6" height="2" fill="#f4e0d8"/>
<rect x="347.35" y="22.35" width="8.50" height="8.50" fill="#fff" stroke="#000000" stroke-width="4"/>
<text x="389" y="36.2" font-size="28.4" fill="#000">Wild type</text>
<path d="M346.10,54.66 L357.30,54.66 L351.70,65.06 Z" fill="#b01020"/><path d="M349.78,56.86 L353.62,56.86 L351.70,60.42 Z" fill="#fff"/>
<text x="389" y="69.5" font-size="28.4" fill="#000">E373G</text>
<path d="M347.60,96.92 L355.60,96.92 L351.60,89.32 Z" fill="#1424e6"/>
<text x="389" y="102.7" font-size="28.4" fill="#000">M237I</text>
<path d="M347.60,122.58 L355.60,122.58 L351.60,130.18 Z" fill="#ea1c3c"/>
<text x="389" y="136.0" font-size="28.4" fill="#000">L248V</text>
<path d="M351.60,155.44 L355.80,159.64 L351.60,163.84 L347.40,159.64 Z" fill="#18ea18"/>
<text x="389" y="169.2" font-size="28.4" fill="#000">D276G</text>
<circle cx="351.60" cy="193.10" r="4.6" fill="#18ea18"/>
<text x="389" y="202.5" font-size="28.4" fill="#000">G321E</text>
<rect x="347.50" y="222.06" width="8.2" height="8.2" fill="#1424e6"/>
<text x="389" y="235.8" font-size="28.4" fill="#000">Y353H</text>
<text x="0" y="0" font-size="26" fill="#000" transform="translate(41.2 432.5) rotate(-90)" textLength="383" lengthAdjust="spacingAndGlyphs">% growth compared to controls</text>
<text x="49.2" y="460.9" font-size="26.8" fill="#000">0</text>
<text x="72.2" y="491.9" font-size="26.8" fill="#000">0</text>
<text x="201.5" y="510.5" font-size="27" fill="#000">Imatinib (<tspan dx="1.6" font-family="Liberation Serif">μ</tspan><tspan dx="1.5">M</tspan><tspan dx="-0.5">)</tspan></text>
</svg>
</body></html>
